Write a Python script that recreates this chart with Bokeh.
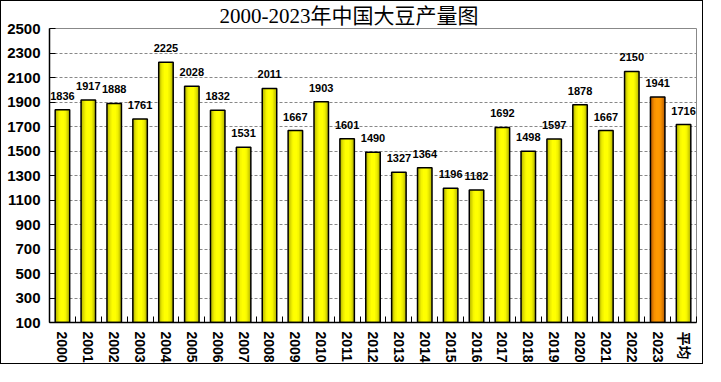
from bokeh.plotting import figure
from bokeh.models import FixedTicker, ColumnDataSource, Range1d
from bokeh.core.properties import value
from bokeh.embed import file_html
from bokeh.resources import INLINE

title_text = "2000-2023年中国大豆产量图"
categories = ["2000", "2001", "2002", "2003", "2004", "2005", "2006", "2007",
              "2008", "2009", "2010", "2011", "2012", "2013", "2014", "2015",
              "2016", "2017", "2018", "2019", "2020", "2021", "2022", "2023", "平均"]
values = [1836, 1917, 1888, 1761, 2225, 2028, 1832, 1531, 2011, 1667, 1903, 1601,
          1490, 1327, 1364, 1196, 1182, 1692, 1498, 1597, 1878, 1667, 2150, 1941, 1716]
highlight = "2023"
y_ticks = [100, 300, 500, 700, 900, 1100, 1300, 1500, 1700, 1900, 2100, 2300, 2500]
y_min, y_max = 100, 2500

# gradient layers (outer -> inner)
yellow_layers = ["#B0B000", "#CCCC00", "#E4E400", "#F6F600", "#FFFF00"]
orange_layers = ["#B05800", "#D07000", "#E88400", "#F89200", "#FF9900"]
layer_widths = [0.56, 0.48, 0.38, 0.28, 0.16]

n = len(categories)
xs = [i + 0.5 for i in range(n)]

p = figure(width=703, height=364, output_backend="svg", toolbar_location=None,
           x_range=Range1d(0, n), y_range=Range1d(y_min, y_max),
           min_border_left=48, min_border_right=8, min_border_top=26, min_border_bottom=43)
p.styles = {"border": "1px solid black"}

p.title.text = title_text
p.title.text_font = "Liberation Serif, Noto Sans CJK SC"
p.title.text_font_size = "21px"
p.title.text_font_style = "normal"
p.title.align = "left"
p.title.offset = 170
p.title.standoff = 1
p.title.text_color = "black"

for li, w in enumerate(layer_widths):
    cols = [orange_layers[li] if c == highlight else yellow_layers[li] for c in categories]
    src = ColumnDataSource(dict(x=xs, top=values, color=cols))
    p.vbar(x="x", top="top", bottom=y_min, width=w, source=src,
           fill_color="color", line_color=None)
p.vbar(x=xs, top=values, bottom=y_min, width=layer_widths[0],
       fill_alpha=0, line_color="black", line_width=1.5)

p.text(x=xs, y=values, text=[str(v) for v in values], text_align="center",
       text_baseline="bottom", y_offset=-10, text_font=value("Liberation Sans"),
       text_font_style="bold", text_font_size="11px", text_color="black")

# axes
p.xaxis.ticker = FixedTicker(ticks=xs, minor_ticks=list(range(n + 1)))
p.xaxis.major_label_overrides = {x: c for x, c in zip(xs, categories)}
p.xaxis.major_label_orientation = "vertical"
p.xaxis.major_tick_in = 0
p.xaxis.major_tick_out = 0
p.xaxis.minor_tick_in = 6
p.xaxis.minor_tick_out = 0
p.xaxis.minor_tick_line_color = "black"
p.xaxis.major_label_standoff = 9
p.xaxis.major_label_text_font = "Liberation Sans, Noto Sans CJK SC"
p.xaxis.major_label_text_font_style = "bold"
p.xaxis.major_label_text_font_size = "14px"
p.xaxis.major_label_text_color = "black"

p.yaxis.ticker = FixedTicker(ticks=y_ticks, minor_ticks=[])
p.yaxis.major_tick_in = 6
p.yaxis.major_tick_out = 0
p.yaxis.major_label_standoff = 9
p.yaxis.major_label_text_font = "Liberation Sans"
p.yaxis.major_label_text_font_style = "bold"
p.yaxis.major_label_text_font_size = "15px"
p.yaxis.major_label_text_color = "black"

for ax in (p.xaxis, p.yaxis):
    ax.axis_line_color = "black"
    ax.axis_line_width = 1.5
    ax.major_tick_line_color = "black"

p.xgrid.grid_line_color = None
p.ygrid.ticker = FixedTicker(ticks=y_ticks)
p.ygrid.grid_line_color = "#888888"
p.ygrid.grid_line_dash = "3 2"
p.ygrid.grid_line_width = 1

p.outline_line_color = "#888888"
p.outline_line_width = 1

open("out.html", "w").write(file_html(p, INLINE))
